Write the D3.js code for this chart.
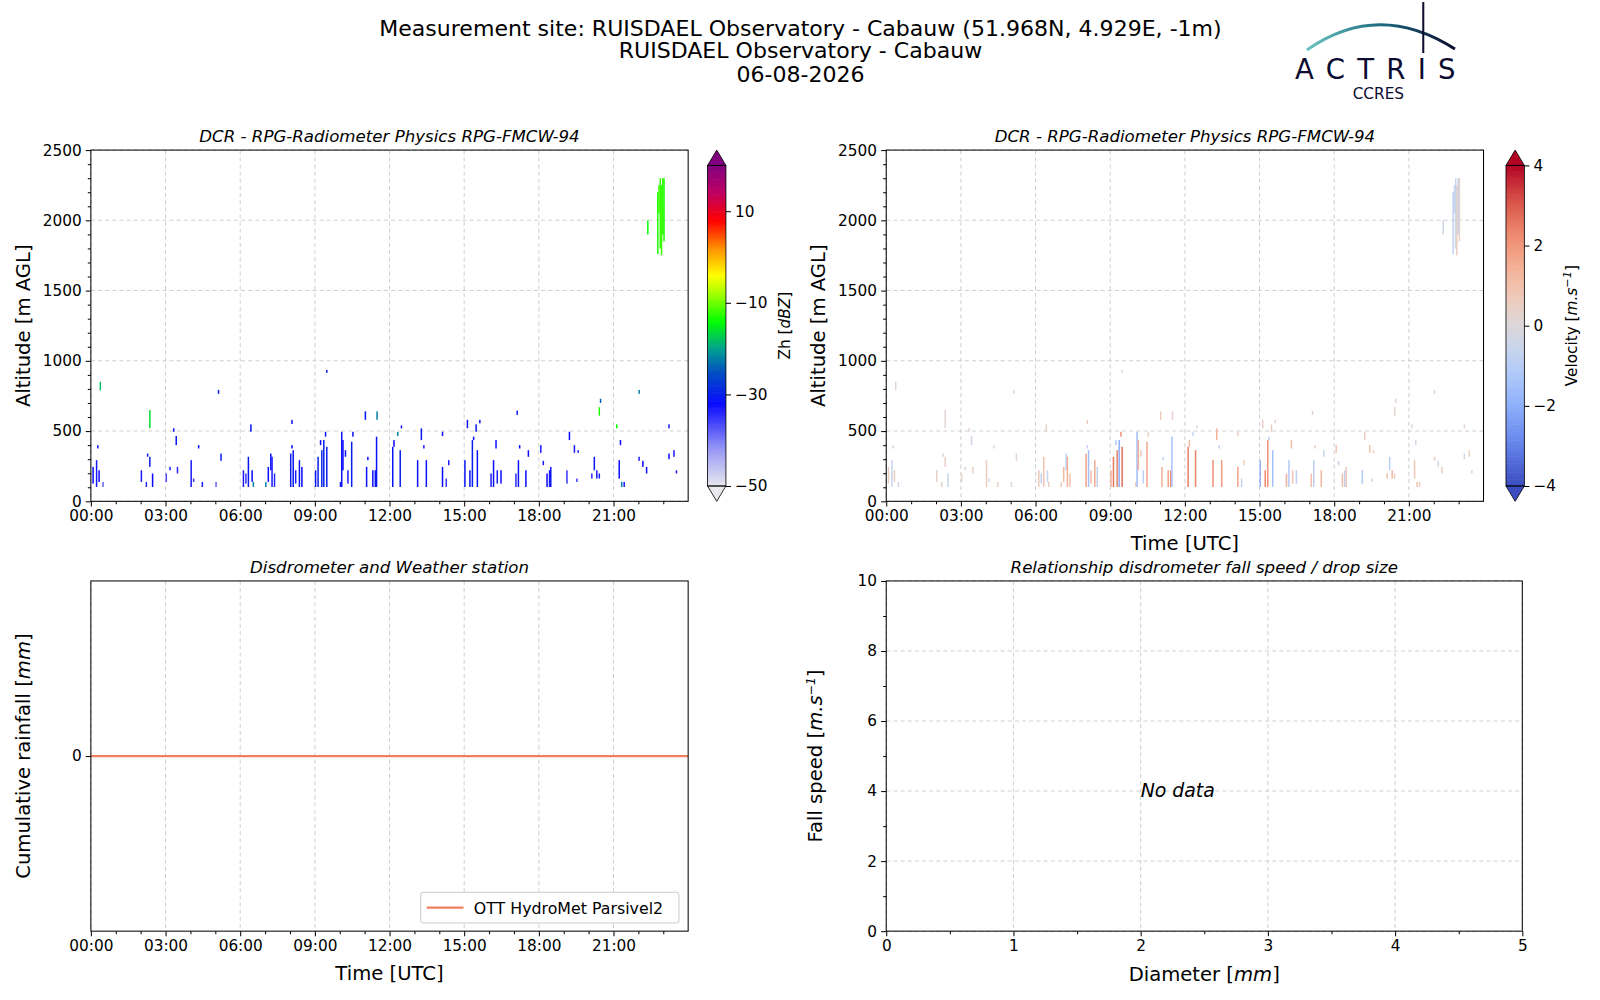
<!DOCTYPE html>
<html><head><meta charset="utf-8">
<script src="https://cdn.jsdelivr.net/npm/d3@7"></script>
<style>body{margin:0;background:#fff}text{font-family:"DejaVu Sans",sans-serif}</style>
</head><body><svg id="s" width="1600" height="1000"></svg>
<script>
// radar echoes: [hour, altLo, altHi, Zh dBZ, velocity m/s]
const echoes = [
[0.06,126,245,-32,0.5],[0.2,102,293,-33,-0.6],[0.25,376,400,-33,0.3],[0.3,138,221,-32,0.6],[0.46,102,138,-38,-0.3],[0.35,790,850,-18,0.2],
[2.0,138,221,-33,0.4],[2.25,317,340,-33,-0.3],[2.2,102,138,-34,0.3],[2.34,520,650,-16,0.2],[2.34,245,317,-30,0.5],[2.45,102,198,-32,-0.5],
[3.0,138,198,-36,0.4],[3.15,221,245,-33,0.2],[3.3,495,520,-32,0.3],[3.4,400,465,-31,-0.4],[3.45,198,245,-34,0.5],
[4.0,102,293,-33,0.6],[4.1,138,162,-35,-0.3],[4.3,376,400,-32,0.2],[4.45,102,138,-33,0.4],
[5.0,102,138,-38,-0.2],[5.1,765,793,-30,0.2],[5.2,288,340,-30,0.3],
[6.1,102,221,-33,0.7],[6.2,126,198,-35,-0.8],[6.3,102,317,-31,0.9],[6.4,495,548,-31,0.4],[6.45,138,221,-32,-0.6],[6.5,102,138,-22,0.5],
[7.0,102,138,-22,0.8],[7.1,138,245,-32,1.2],[7.2,221,340,-31,-1.0],[7.25,102,317,-33,1.4],[7.35,102,198,-34,0.9],
[8.0,102,340,-30,1.8],[8.05,550,580,-31,0.5],[8.05,376,400,-32,-0.7],[8.1,102,364,-31,-1.5],[8.2,126,221,-33,1.1],[8.35,102,293,-31,1.6],[8.45,102,245,-32,-0.8],
[9.0,102,221,-31,1.5],[9.1,102,317,-30,2.6],[9.2,400,436,-32,-1.2],[9.25,102,364,-29,2.4],[9.33,102,436,-30,-2.0],[9.4,460,495,-31,2.2],[9.45,102,388,-30,2.7],[9.45,915,935,-31,0.3],
[10.0,102,138,-33,0.8],[10.05,102,495,-31,-1.6],[10.1,221,436,-32,1.4],[10.2,317,364,-32,0.8],[10.3,126,221,-33,-0.9],[10.45,102,424,-30,1.7],[10.5,460,495,-32,0.4],
[11.0,580,640,-31,0.6],[11.05,102,245,-31,1.5],[11.1,293,317,-32,-0.8],[11.3,102,221,-32,1.8],[11.4,102,221,-31,2.2],[11.45,102,460,-31,-1.4],[11.47,580,640,-22,0.4],
[12.1,102,388,-31,2.5],[12.15,388,436,-32,1.2],[12.3,464,495,-22,-0.6],[12.4,102,364,-30,2.4],[12.45,519,540,-32,0.4],
[13.1,102,293,-31,2.2],[13.25,436,519,-31,1.4],[13.35,376,400,-33,-0.8],[13.45,102,293,-31,1.9],
[14.1,464,495,-32,0.5],[14.1,102,245,-32,1.8],[14.25,102,162,-35,-0.7],[14.35,257,293,-33,0.6],
[15.0,102,293,-31,-1.8],[15.1,520,580,-31,0.4],[15.2,102,221,-31,2.3],[15.3,102,436,-30,2.1],[15.35,436,460,-32,-1.0],[15.45,495,548,-31,0.6],[15.5,102,364,-31,-1.5],[15.6,555,580,-32,0.5],
[16.05,102,198,-33,1.5],[16.15,102,293,-32,-1.1],[16.25,376,436,-32,1.2],[16.3,126,221,-33,0.9],[16.45,126,221,-32,-0.8],
[17.1,615,645,-31,0.3],[17.05,102,198,-34,1.1],[17.15,102,293,-31,-0.9],[17.2,376,400,-32,0.6],[17.45,102,221,-32,1.3],[17.55,317,364,-32,-0.6],
[18.05,345,400,-33,0.9],[18.15,257,288,-33,-0.7],[18.3,102,198,-32,1.2],[18.4,102,221,-33,-1.0],[18.45,102,245,-31,0.8],
[19.1,126,221,-35,-1.2],[19.2,436,495,-32,0.6],[19.4,345,400,-33,1.0],[19.5,138,162,-35,-0.6],[19.55,345,364,-33,0.7],
[20.1,162,198,-34,1.1],[20.2,221,317,-31,-0.9],[20.3,162,221,-33,1.3],[20.4,162,198,-33,0.6],[20.4,610,670,-13,0.3],[20.45,700,730,-24,0.4],
[21.1,519,548,-14,0.3],[21.2,162,293,-32,0.8],[21.25,400,436,-32,-0.5],[21.3,102,138,-22,0.9],[21.4,102,138,-33,0.6],
[22.0,765,793,-22,0.3],[22.0,288,317,-33,0.5],[22.15,245,288,-32,-0.4],[22.3,198,245,-32,0.7],[22.35,1900,2000,-14,-0.4],
[22.75,1760,2200,-13,-0.8],[22.85,1800,2300,-12,-0.5],[22.9,1750,2250,-12,0.6],[22.95,1900,2300,-12,-0.9],[23.0,1850,2300,-13,0.4],[22.8,2050,2250,-12,-0.6],
[23.2,519,548,-33,0.4],[23.2,300,340,-32,-0.3],[23.4,317,364,-33,0.5],[23.5,198,221,-33,0.6]
];
const hourTicks = ["00:00","03:00","06:00","09:00","12:00","15:00","18:00","21:00"];
const altTicks = [0,500,1000,1500,2000,2500];
const zhTicks = [-50,-30,-10,10];
const velTicks = [-4,-2,0,2,4];
const rainTime = [0,24];
const rainValue = [0,0];
const diamTicks = [0,1,2,3,4,5];
const speedTicks = [0,2,4,6,8,10];

const svg = d3.select("#s");
const root = svg.append("g").attr("transform","scale(1.021)");
const navy="#0c0c30";

const hdr=[["Measurement site: RUISDAEL Observatory - Cabauw (51.968N, 4.929E, -1m)",35],["RUISDAEL Observatory - Cabauw",57],["06-08-2026",80]];
hdr.forEach(([t,y])=>root.append("text").attr("x",784).attr("y",y).attr("text-anchor","middle").attr("font-size",21.6).text(t));
const defs=svg.append("defs");
const lg=defs.append("linearGradient").attr("id","lg");
lg.append("stop").attr("offset","0").attr("stop-color","#6cc4c0");
lg.append("stop").attr("offset","0.5").attr("stop-color","#1a6a80");
lg.append("stop").attr("offset","1").attr("stop-color",navy);
root.append("path").attr("d","M1280,49 Q1350,0 1425,48").attr("fill","none").attr("stroke","url(#lg)").attr("stroke-width",3);
root.append("line").attr("x1",1394).attr("x2",1394).attr("y1",2).attr("y2",52).attr("stroke",navy).attr("stroke-width",2);
root.append("text").attr("x",1353).attr("y",77).attr("text-anchor","middle").attr("font-size",27).attr("letter-spacing",12).attr("fill",navy).attr("font-family","Lato").text("ACTRIS");
root.append("text").attr("x",1350).attr("y",97).attr("text-anchor","middle").attr("font-size",15).attr("fill",navy).attr("font-family","Lato").text("CCRES");

function axes(g,x,y,xt,yt,W,H){
  g.selectAll(".gx").data(xt).join("line").attr("x1",d=>x(d)).attr("x2",d=>x(d)).attr("y1",0).attr("y2",H).attr("stroke","#d0d0d0").attr("stroke-dasharray","4,3");
  g.selectAll(".gy").data(yt).join("line").attr("y1",d=>y(d)).attr("y2",d=>y(d)).attr("x1",0).attr("x2",W).attr("stroke","#d0d0d0").attr("stroke-dasharray","4,3");
}
function frame(g,x,y,xt,xfmt,yt,yfmt,xminor,yminor,W,H){
  g.append("rect").attr("width",W).attr("height",H).attr("fill","none").attr("stroke","#000").attr("stroke-width",1);
  const ax=g.append("g").attr("transform",`translate(0,${H})`).call(d3.axisBottom(x).tickValues(xt).tickFormat(xfmt).tickSize(5).tickPadding(4));
  const ay=g.append("g").call(d3.axisLeft(y).tickValues(yt).tickFormat(yfmt).tickSize(5).tickPadding(4));
  [ax,ay].forEach(a=>{a.select(".domain").remove();a.selectAll("text").attr("font-size",15).attr("font-family","DejaVu Sans");});
  if(xminor) g.append("g").attr("transform",`translate(0,${H})`).call(d3.axisBottom(x).tickValues(xminor).tickSize(3).tickFormat("")).select(".domain").remove();
  if(yminor) g.append("g").call(d3.axisLeft(y).tickValues(yminor).tickSize(3).tickFormat("")).select(".domain").remove();
}
const hourMinor=d3.range(0,25).filter(h=>h%3);
const altMinor=d3.range(0,2501,100).filter(a=>a%500);

function zhColor(v){
  const st=[[-50,"#e8e8ee"],[-42,"#9a9af5"],[-32,"#0a0aff"],[-25,"#0050c0"],[-20,"#00a090"],[-14,"#00ff00"],[-8,"#a0ff00"],[-4,"#ffff00"],[2,"#ff9000"],[8,"#ff0000"],[14,"#c00060"],[20,"#800080"]];
  for(let i=1;i<st.length;i++) if(v<=st[i][0]){const t=(v-st[i-1][0])/(st[i][0]-st[i-1][0]);return d3.interpolateRgb(st[i-1][1],st[i][1])(t);}
  return st[st.length-1][1];
}
const coolwarm=d3.interpolateRgbBasis(["#3b4cc0","#6282ea","#8db0fe","#b8d0f9","#dddcdc","#f5c4ad","#f49a7b","#de604d","#b40426"]);
const velColor=v=>coolwarm(Math.max(0,Math.min(1,(v+4)/8)));

function radarPanel(px,title,colorFn,valIdx,showX){
  const W=585,H=344;
  const g=root.append("g").attr("transform",`translate(${px},147)`);
  const x=d3.scaleLinear().domain([0,24]).range([0,W]);
  const y=d3.scaleLinear().domain([0,2500]).range([H,0]);
  axes(g,x,y,d3.range(0,22,3),altTicks,W,H);
  g.selectAll(".e").data(echoes).join("rect").attr("x",d=>x(d[0])).attr("width",Math.max(1.2,x(0.06)))
    .attr("y",d=>y(d[2])).attr("height",d=>y(d[1])-y(d[2])).attr("fill",d=>colorFn(d[valIdx]));
  frame(g,x,y,d3.range(0,22,3),(d,i)=>hourTicks[i],altTicks,d3.format("d"),hourMinor,altMinor,W,H);
  root.append("text").attr("x",px+W/2).attr("y",139).attr("text-anchor","middle").attr("font-size",16.3).attr("font-style","italic").text(title);
  root.append("text").attr("transform",`translate(${px-60},${147+H/2}) rotate(-90)`).attr("text-anchor","middle").attr("font-size",19.2).text("Altitude [m AGL]");
  if(showX) root.append("text").attr("x",px+W/2).attr("y",539).attr("text-anchor","middle").attr("font-size",19.2).text("Time [UTC]");
}
radarPanel(89,"DCR - RPG-Radiometer Physics RPG-FMCW-94",zhColor,3,false);
radarPanel(868,"DCR - RPG-Radiometer Physics RPG-FMCW-94",velColor,4,true);

function colorbar(cx,lo,hi,fn,ticks,fmt,label,labelX){
  const g=root.append("g").attr("transform",`translate(${cx},0)`);
  const top=162,bot=476,w=18;
  const s=d3.scaleLinear().domain([lo,hi]).range([bot,top]);
  const n=140;
  for(let i=0;i<n;i++){const v0=lo+(hi-lo)*i/n,v1=lo+(hi-lo)*(i+1)/n;
    g.append("rect").attr("x",0).attr("width",w).attr("y",s(v1)).attr("height",s(v0)-s(v1)+0.6).attr("fill",fn((v0+v1)/2));}
  g.append("path").attr("d",`M0,${top} L${w/2},147 L${w},${top}Z`).attr("fill",fn(hi)).attr("stroke","#000").attr("stroke-width",0.8);
  g.append("path").attr("d",`M0,${bot} L${w/2},491 L${w},${bot}Z`).attr("fill",fn(lo)).attr("stroke","#000").attr("stroke-width",0.8);
  g.append("rect").attr("width",w).attr("y",top).attr("height",bot-top).attr("fill","none").attr("stroke","#000").attr("stroke-width",0.8);
  const a=g.append("g").attr("transform",`translate(${w},0)`).call(d3.axisRight(s).tickValues(ticks).tickFormat(fmt).tickSize(5).tickPadding(4));
  a.select(".domain").remove();a.selectAll("text").attr("font-size",15).attr("font-family","DejaVu Sans");
  const lab=root.append("text").attr("transform",`translate(${labelX},319) rotate(-90)`).attr("text-anchor","middle").attr("font-size",15);
  label(lab);
}
colorbar(693,-50,20,zhColor,zhTicks,d=>d<0?"\u2212"+(-d):d,t=>{t.append("tspan").text("Zh [");t.append("tspan").attr("font-style","italic").text("dBZ");t.append("tspan").text("]");},774);
colorbar(1475,-4,4,velColor,velTicks,d=>d<0?"\u2212"+(-d):d,t=>{t.append("tspan").text("Velocity [");t.append("tspan").attr("font-style","italic").text("m.s");t.append("tspan").attr("font-style","italic").attr("dy",-6).attr("font-size",11).text("\u22121");t.append("tspan").attr("dy",6).text("]");},1545);

{
  const W=585,H=343;
  const g=root.append("g").attr("transform",`translate(89,569)`);
  const x=d3.scaleLinear().domain([0,24]).range([0,W]);
  const y=d3.scaleLinear().domain([-1,1]).range([H,0]);
  axes(g,x,y,d3.range(0,22,3),[],W,H);
  const line=d3.line().x((d,i)=>x(rainTime[i])).y(d=>y(d));
  g.append("path").datum(rainValue).attr("d",line).attr("fill","none").attr("stroke","#f08060").attr("stroke-width",2.2);
  frame(g,x,y,d3.range(0,22,3),(d,i)=>hourTicks[i],[0],d3.format("d"),hourMinor,null,W,H);
  root.append("text").attr("x",89+W/2).attr("y",561).attr("text-anchor","middle").attr("font-size",16.3).attr("font-style","italic").text("Disdrometer and Weather station");
  root.append("text").attr("x",89+W/2).attr("y",960).attr("text-anchor","middle").attr("font-size",19.2).text("Time [UTC]");
  const yl=root.append("text").attr("transform",`translate(29,${569+H/2}) rotate(-90)`).attr("text-anchor","middle").attr("font-size",19.2);
  yl.append("tspan").text("Cumulative rainfall [");yl.append("tspan").attr("font-style","italic").text("mm");yl.append("tspan").text("]");
  const lgG=g.append("g").attr("transform",`translate(323,305)`);
  lgG.append("rect").attr("width",253).attr("height",30).attr("rx",3).attr("fill","#fff").attr("stroke","#ccc");
  lgG.append("line").attr("x1",6).attr("x2",42).attr("y1",15).attr("y2",15).attr("stroke","#f08060").attr("stroke-width",2.2);
  lgG.append("text").attr("x",52).attr("y",21).attr("font-size",15.5).text("OTT HydroMet Parsivel2");
}
{
  const W=623,H=343;
  const g=root.append("g").attr("transform",`translate(868,569)`);
  const x=d3.scaleLinear().domain([0,5]).range([0,W]);
  const y=d3.scaleLinear().domain([0,10]).range([H,0]);
  axes(g,x,y,diamTicks,speedTicks,W,H);
  frame(g,x,y,diamTicks,d3.format("d"),speedTicks,d3.format("d"),d3.range(0.5,5,1),d3.range(1,10,2),W,H);
  g.append("text").attr("x",x(2)).attr("y",y(4)+6).attr("font-size",18.5).attr("font-style","italic").text("No data");
  root.append("text").attr("x",868+W/2).attr("y",561).attr("text-anchor","middle").attr("font-size",16.3).attr("font-style","italic").text("Relationship disdrometer fall speed / drop size");
  const xl=root.append("text").attr("x",868+W/2).attr("y",961).attr("text-anchor","middle").attr("font-size",19.2);
  xl.append("tspan").text("Diameter [");xl.append("tspan").attr("font-style","italic").text("mm");xl.append("tspan").text("]");
  const yl=root.append("text").attr("transform",`translate(805,${569+H/2}) rotate(-90)`).attr("text-anchor","middle").attr("font-size",19.2);
  yl.append("tspan").text("Fall speed [");yl.append("tspan").attr("font-style","italic").text("m.s");yl.append("tspan").attr("font-style","italic").attr("dy",-7).attr("font-size",12).text("\u22121");yl.append("tspan").attr("dy",7).text("]");
}
</script></body></html>
